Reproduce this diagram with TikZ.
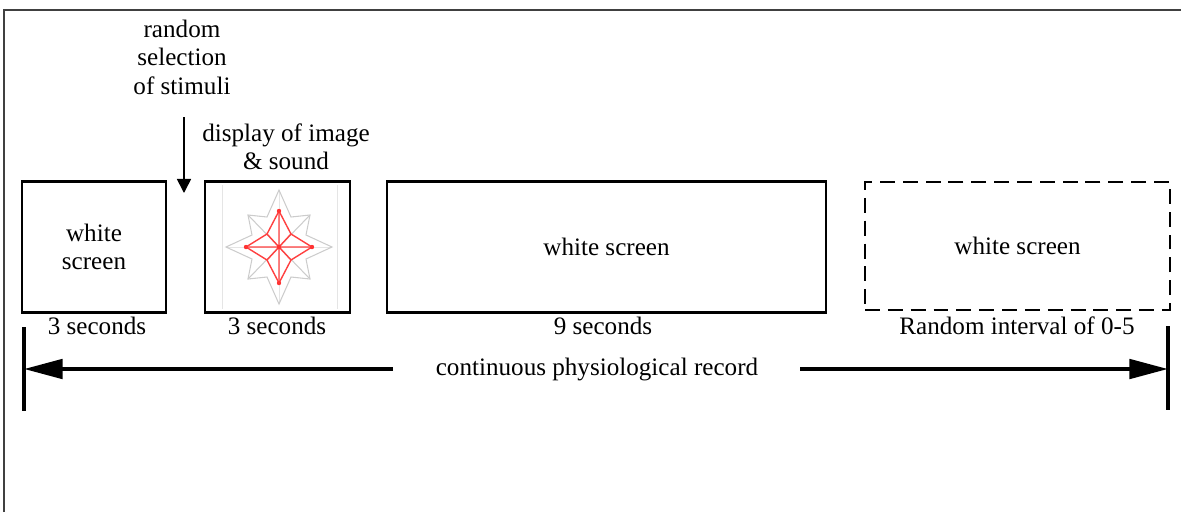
\documentclass[tikz,border=0pt]{standalone}
\usepackage{fontspec}
\setmainfont{Liberation Serif}
\usetikzlibrary{arrows.meta,calc}
\begin{document}
\begin{tikzpicture}[x=0.02cm,y=-0.02cm,
  every node/.style={font=\fontsize{14.3}{16.2}\selectfont,align=center,inner sep=0pt},
  screen/.style={draw,line width=1.5pt,minimum height=2.62cm},
  bar/.style={line width=2.6pt},
  timeline/.style={line width=2.3pt,-{Triangle[length=22pt,width=11pt]}},
  gstar/.style={draw=black!20,line width=0.6pt},
  rstar/.style={draw=red!75,line width=0.8pt}]
\useasboundingbox (0,0) rectangle (1181,512);
% frame
\draw[black!75,line width=0.9pt] (4,512) -- (4,10) -- (1181,10);

% screens
\node[screen,minimum width=2.88cm] (s1) at (94,247) {white\\screen};
\node[screen,minimum width=2.90cm] (s2) at (277.5,247) {};
\node[screen,minimum width=8.78cm] (s3) at (606.5,247) {white screen};
\node[screen,dashed,dash pattern=on 8.5pt off 4.5pt,minimum width=6.10cm,minimum height=2.56cm] (s4) at (1017.5,246) {white screen};

% stimulus drawing
\begin{scope}[shift={(279,247)}]
  \draw[black!10,line width=0.5pt] (-57,-62) -- (-57,62) (58,-62) -- (58,62) (0,-57) -- (0,57) (-53,0) -- (53,0);
  \draw[gstar] (0,-57) -- (-12,-30) -- (-31,-32) -- (-27,-12) -- (-53,0) -- (-27,12) -- (-31,32) -- (-12,30)
     -- (0,57) -- (12,30) -- (31,32) -- (27,12) -- (53,0) -- (27,-12) -- (31,-32) -- (12,-30) -- cycle;
  \draw[gstar] (-31,-32) -- (31,32) (31,-32) -- (-31,32);
  \draw[rstar] (0,-36) -- (12,-13) -- (33,0) -- (12,13) -- (0,36) -- (-12,13) -- (-33,0) -- (-12,-13) -- cycle;
  \draw[rstar] (0,-36) -- (0,36) (-33,0) -- (33,0) (-12,-13) -- (12,13) (12,-13) -- (-12,13);
  \foreach \p in {(0,-36),(0,36),(-33,0),(33,0),(0,0)} \fill[red!80] \p circle (2.2);
\end{scope}

% captions above
\node (sel) at (182,57) {random\\selection\\of stimuli};
\node (disp) at (286,147) {display of image\\\&\ sound};
\coordinate (selA) at (184,117);
\coordinate (selB) at (184,193);
\draw[line width=0.9pt,-{Triangle[length=8pt,width=8pt]}] (selA) -- (selB);

% durations
\node (d1) at (97,326) {3 seconds};
\node (d2) at (277,326) {3 seconds};
\node (d3) at (603,326) {9 seconds};
\node (d4) at (1017,326) {Random interval of 0-5};

% recording timeline
\coordinate (lt) at (24,327);
\coordinate (lb) at (24,411);
\coordinate (rt) at (1168,326);
\coordinate (rb) at (1168,410);
\draw[bar] (lt) -- (lb);
\draw[bar] (rt) -- (rb);
\node (rec) at (597,369) {continuous physiological record};
\coordinate (la) at (393,369);
\coordinate (ra) at (800,369);
\draw[timeline] (la) -- (lt |- la);
\draw[timeline] (ra) -- (rt |- ra);
\end{tikzpicture}
\end{document}
